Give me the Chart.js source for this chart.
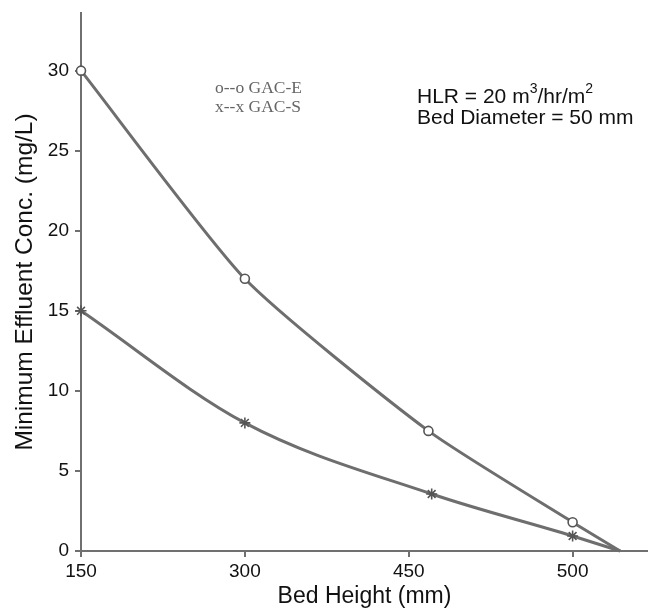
<!DOCTYPE html>
<html>
<head>
<meta charset="utf-8">
<script src="https://cdn.jsdelivr.net/npm/chart.js@4/dist/chart.umd.min.js"></script>
<style>
  body { margin: 0; background: #fff; }
</style>
</head>
<body>
<canvas id="bedChart" width="648" height="608"></canvas>
<script>
// x values are in tick-slot units: 0 -> 150, 1 -> 300, 2 -> 450, 3 -> 500 (axis is not to scale)
const tickLabels = ["150", "300", "450", "500"];
const gacE_x = [0, 1, 2.12, 3.0, 3.29];
const gacE_y = [30, 17, 7.5, 1.8, 0];
const gacS_x = [0, 1, 2.14, 3.0, 3.29];
const gacS_y = [15, 8, 3.56, 0.94, 0];

const lineGrey = "#6e6e6e";
const axisGrey = "#707070";

function toPoints(xs, ys) {
    return xs.map((x, i) => ({ x: x, y: ys[i] }));
}

// draws a line of text where parts can be superscripts
function drawRich(ctx, parts, x, y, size) {
    let cx = x;
    parts.forEach(p => {
        const s = p.sup ? Math.round(size * 0.65) : size;
        ctx.font = s + "px 'Liberation Sans', Arial, sans-serif";
        ctx.fillText(p.t, cx, p.sup ? y - size * 0.38 : y);
        cx += ctx.measureText(p.t).width;
    });
}

const notes = {
    id: "notes",
    afterDraw(chart) {
        const ctx = chart.ctx;
        ctx.save();
        ctx.textBaseline = "middle";
        ctx.textAlign = "left";
        ctx.fillStyle = "#666";
        ctx.font = "17.5px 'Liberation Serif', 'Times New Roman', serif";
        ctx.fillText("o--o GAC-E", 215, 88);
        ctx.fillText("x--x GAC-S", 215, 107);

        ctx.fillStyle = "#111";
        drawRich(ctx, [{ t: "HLR = 20 m" }, { t: "3", sup: true }, { t: "/hr/m" }, { t: "2", sup: true }], 417, 97, 21);
        drawRich(ctx, [{ t: "Bed Diameter = 50 mm" }], 417, 118, 21);
        ctx.restore();
    }
};

const ctx = document.getElementById("bedChart").getContext("2d");

new Chart(ctx, {
    type: "line",
    data: {
        datasets: [{
            label: "GAC-E",
            data: toPoints(gacE_x, gacE_y),
            borderColor: lineGrey,
            borderWidth: 3,
            tension: 0.2,
            pointStyle: "circle",
            pointRadius: [4.5, 4.5, 4.5, 4.5, 0],
            pointBorderWidth: 1.6,
            pointBorderColor: "#555",
            pointBackgroundColor: "#fff",
            clip: 10
        }, {
            label: "GAC-S",
            data: toPoints(gacS_x, gacS_y),
            borderColor: lineGrey,
            borderWidth: 3,
            cubicInterpolationMode: "monotone",
            pointStyle: "star",
            pointRadius: [5.5, 5.5, 5.5, 5.5, 0],
            pointBorderWidth: 1.6,
            pointBorderColor: "#555",
            clip: 10
        }]
    },
    options: {
        responsive: false,
        animation: false,
        layout: { autoPadding: false, padding: { top: 13, right: 0, left: 0, bottom: 0 } },
        plugins: {
            legend: { display: false },
            tooltip: { enabled: false }
        },
        scales: {
            x: {
                type: "linear",
                min: 0,
                max: 3.46,
                afterFit(scale) {
                    scale.height = 57;
                    scale.paddingLeft = 0;
                    scale.paddingRight = 0;
                },
                afterBuildTicks(scale) {
                    scale.ticks = tickLabels.map((t, i) => ({ value: i }));
                },
                border: { color: axisGrey, width: 2 },
                grid: { drawOnChartArea: false, tickLength: 6, color: axisGrey, lineWidth: 2 },
                ticks: {
                    padding: 3,
                    color: "#111",
                    maxRotation: 0,
                    font: { size: 19, family: "'Liberation Sans', Arial, sans-serif" },
                    callback: v => tickLabels[v] ?? ""
                },
                title: {
                    display: true,
                    text: "Bed Height (mm)",
                    color: "#111",
                    padding: { top: 0, bottom: 0 },
                    font: { size: 23, lineHeight: 1, family: "'Liberation Sans', Arial, sans-serif" }
                }
            },
            y: {
                min: 0,
                max: 33.6,
                afterFit(scale) {
                    scale.width = 81;
                    scale.paddingTop = 0;
                    scale.paddingBottom = 0;
                },
                border: { color: axisGrey, width: 2 },
                grid: { drawOnChartArea: false, tickLength: 6, color: axisGrey, lineWidth: 2 },
                ticks: {
                    stepSize: 5,
                    includeBounds: false,
                    padding: 6,
                    color: "#111",
                    font: { size: 19, family: "'Liberation Sans', Arial, sans-serif" }
                },
                title: {
                    display: true,
                    text: "Minimum Effluent Conc. (mg/L)",
                    color: "#111",
                    padding: { top: 13, bottom: 0 },
                    font: { size: 24.5, lineHeight: 1, family: "'Liberation Sans', Arial, sans-serif" }
                }
            }
        }
    },
    plugins: [notes]
});
</script>
</body>
</html>
